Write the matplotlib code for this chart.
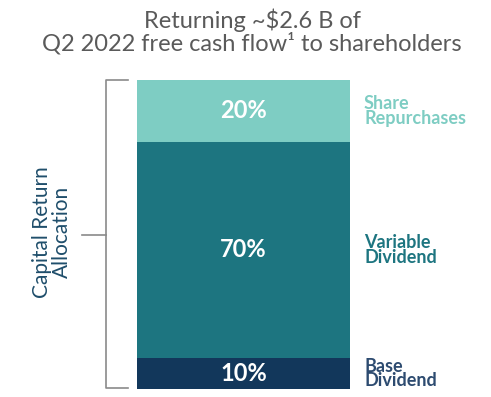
import matplotlib.pyplot as plt

#---- Data -------------------------------------------------------------------#

segments = ['Base\nDividend', 'Variable\nDividend', 'Share\nRepurchases']
shares = [10, 70, 20]                     # percent of capital return
colors = ['#12375B', '#1D7580', '#7ECDC3']
label_colors = ['#2D4B70', '#1D7580', '#7ECDC3']
title = 'Returning ~$2.6 B of\nQ2 2022 free cash flow\u00b9 to shareholders'
ylabel = 'Capital Return\nAllocation'

#---- Plotting ---------------------------------------------------------------#

plt.rcParams['font.family'] = ['Lato', 'DejaVu Sans']

W, H = 491, 397
fig = plt.figure(figsize=(W / 100, H / 100), dpi=100)
ax = fig.add_axes([137 / W, (H - 389) / H, (350 - 137) / W, (389 - 80) / H])

bottom = 0
for seg, val, col, lcol in zip(segments, shares, colors, label_colors):
    ax.bar(0, val, width=1, bottom=bottom, color=col, edgecolor='none')
    ax.text(0, bottom + val / 2, f'{val}%', color='white', fontsize=17,
            fontweight='bold', ha='center', va='center')
    # label to the right of each segment
    ax.text(0.5 + 14 / 213, bottom + val / 2, seg, color=lcol, fontsize=13,
            fontweight='bold', ha='left', va='center', linespacing=0.85)
    bottom += val

ax.set_xlim(-0.5, 0.5)
ax.set_ylim(0, 100)
ax.axis('off')

# bracket on the left
bx = -0.5 - 31 / 213                      # x position of bracket line in data
tick = -0.5 - 9 / 213
mid = -0.5 - 55 / 213
ax.plot([tick, bx, bx, tick], [100, 100, 0.3, 0.3], color='#8A8A8A', lw=1.2,
        clip_on=False)
ax.plot([bx, mid], [50, 50], color='#8A8A8A', lw=1.2, clip_on=False)

fig.text(52 / W, 1 - 232 / H, ylabel, rotation=90, color='#1F4E6B',
         fontsize=15, ha='center', va='center', linespacing=1.0)

fig.text(252 / W, 1 - 31 / H, title, color='#5A5A5A', fontsize=17,
         ha='center', va='center', linespacing=1.0)

plt.savefig('out.png', dpi=100)
